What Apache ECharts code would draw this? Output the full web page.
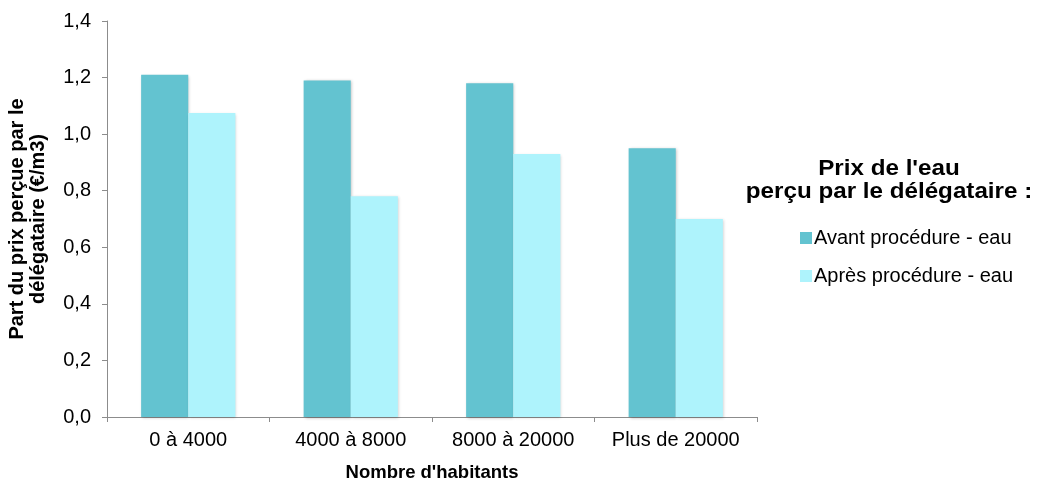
<!DOCTYPE html>
<html><head><meta charset="utf-8">
<script src="https://cdn.jsdelivr.net/npm/echarts@6/dist/echarts.min.js"></script>
<style>html,body{margin:0;padding:0;background:#fff}#c{width:1037px;height:484px}</style>
</head><body><div id="c"></div>
<script>
const categories = ['0 à 4000', '4000 à 8000', '8000 à 20000', 'Plus de 20000'];
const avant = [1.21, 1.19, 1.18, 0.95];
const apres = [1.075, 0.78, 0.93, 0.70];
const seriesNames = ['Avant procédure - eau', 'Après procédure - eau'];
const yTicks = [0, 0.2, 0.4, 0.6, 0.8, 1.0, 1.2, 1.4];

const font = '"Liberation Sans", Arial, sans-serif';
const chart = echarts.init(document.getElementById('c'));
chart.setOption({
  animation: false,
  textStyle: { fontFamily: font },
  grid: { left: 107, top: 21, right: 280, bottom: 67, containLabel: false, outerBoundsMode: 'none' },
  legend: {
    orient: 'vertical', left: 795, top: 223, itemWidth: 12, itemHeight: 12, itemGap: 18,
    icon: 'rect',
    textStyle: { fontFamily: font, fontSize: 20, color: '#000', padding: [0, 0, 0, -3] },
    data: seriesNames
  },
  graphic: [{
    type: 'text',
    x: 889, y: 157, scaleX: 1.1,
    style: {
      text: "Prix de l'eau\nperçu par le délégataire :",
      fontFamily: font, fontSize: 22, fontWeight: 'bold', fill: '#000',
      align: 'center', lineHeight: 23
    }
  }],
  xAxis: {
    type: 'category', data: categories,
    name: "Nombre d'habitants", nameLocation: 'middle', nameGap: 46,
    nameTextStyle: { fontFamily: font, fontSize: 18.5, fontWeight: 'bold', color: '#000' },
    axisLine: { lineStyle: { color: '#8c8c8c', width: 1 } },
    axisTick: { show: true, length: 5, lineStyle: { color: '#8c8c8c' } },
    axisLabel: { fontFamily: font, fontSize: 20, color: '#000', margin: 13, interval: 0 }
  },
  yAxis: {
    type: 'value', min: 0, max: 1.4, interval: 0.2,
    name: 'Part du prix perçue par le\ndélégataire (€/m3)', nameLocation: 'middle', nameGap: 58,
    nameTextStyle: { fontFamily: font, fontSize: 20, fontWeight: 'bold', color: '#000', lineHeight: 21 },
    axisLine: { show: true, lineStyle: { color: '#8c8c8c', width: 1 } },
    axisTick: { show: true, length: 5, lineStyle: { color: '#8c8c8c' } },
    splitLine: { show: false },
    axisLabel: {
      fontFamily: font, fontSize: 20, color: '#000', margin: 16,
      formatter: v => yTicks.includes(Math.round(v * 10) / 10) ? v.toFixed(1).replace('.', ',') : ''
    }
  },
  series: [
    {
      name: seriesNames[0], type: 'bar', data: avant, barGap: '0%', barCategoryGap: '42%',
      itemStyle: { color: '#63c3d0', shadowColor: 'rgba(0,0,0,0.25)', shadowBlur: 3, shadowOffsetX: 1, shadowOffsetY: 1 }
    },
    {
      name: seriesNames[1], type: 'bar', data: apres,
      itemStyle: { color: '#aef3fc', shadowColor: 'rgba(0,0,0,0.2)', shadowBlur: 3, shadowOffsetX: 1, shadowOffsetY: 1 }
    }
  ]
});
</script></body></html>
